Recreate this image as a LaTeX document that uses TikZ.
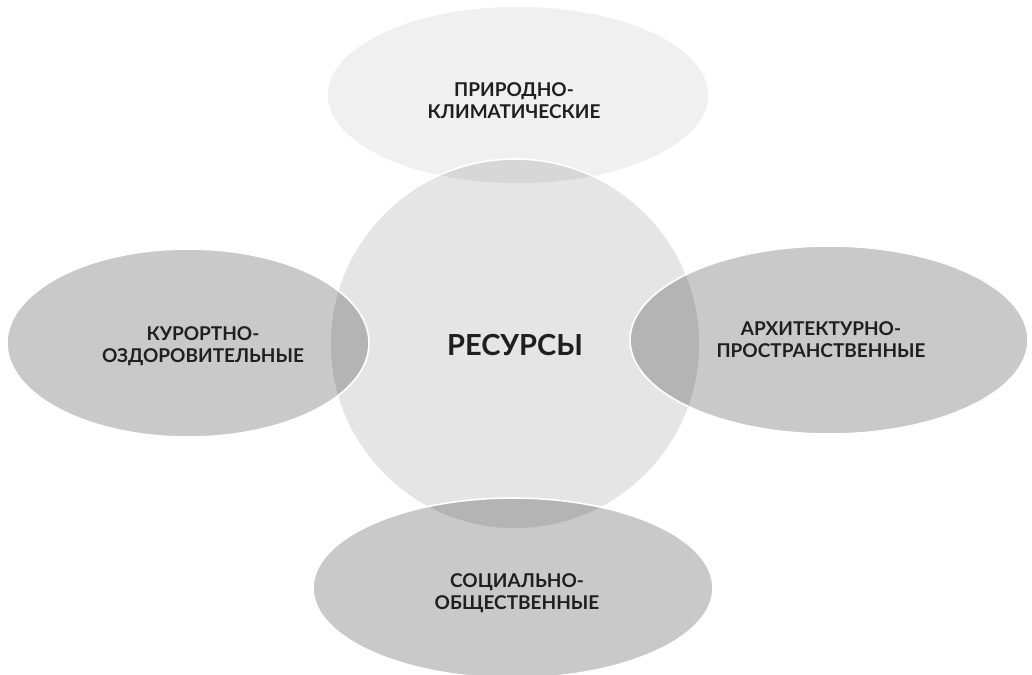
\documentclass[tikz,border=0pt]{standalone}
\usepackage{fontspec}
\setmainfont{Lato}
\usetikzlibrary{shapes.geometric}
\tikzset{
  blob/.style={draw=white, line width=1.6pt, fill=black, inner sep=0pt},
  lbl/.style={font=\fontsize{19}{22}\selectfont\bfseries, text=black!88, align=center, inner sep=0pt}
}
\begin{document}
\begin{tikzpicture}[x=1pt,y=-1pt]
\useasboundingbox[fill=white] (0,0) rectangle (1032,674);
\node[blob, ellipse, fill opacity=0.06, minimum width=382pt, minimum height=178pt] (top) at (518,95) {};
\node[blob, circle, fill opacity=0.10, minimum size=370pt] (res) at (515,344) {};
\node[blob, ellipse, fill opacity=0.21, minimum width=362pt, minimum height=188pt] (left) at (188,343) {};
\node[blob, ellipse, fill opacity=0.21, minimum width=398pt, minimum height=188pt] (right) at (829,340) {};
\node[blob, ellipse, fill opacity=0.21, minimum width=400pt, minimum height=180pt] (bottom) at (513,588) {};
\node[lbl] (ttop) at (514,101) {ПРИРОДНО-\\КЛИМАТИЧЕСКИЕ};
\node[lbl] (tleft) at (203,346) {КУРОРТНО-\\ОЗДОРОВИТЕЛЬНЫЕ};
\node[lbl] (tright) at (821,340) {АРХИТЕКТУРНО-\\ПРОСТРАНСТВЕННЫЕ};
\node[lbl] (tbottom) at (517,593) {СОЦИАЛЬНО-\\ОБЩЕСТВЕННЫЕ};
\node[lbl, font=\fontsize{29}{32}\selectfont\bfseries] (tres) at (515,345) {РЕСУРСЫ};
\end{tikzpicture}
\end{document}
